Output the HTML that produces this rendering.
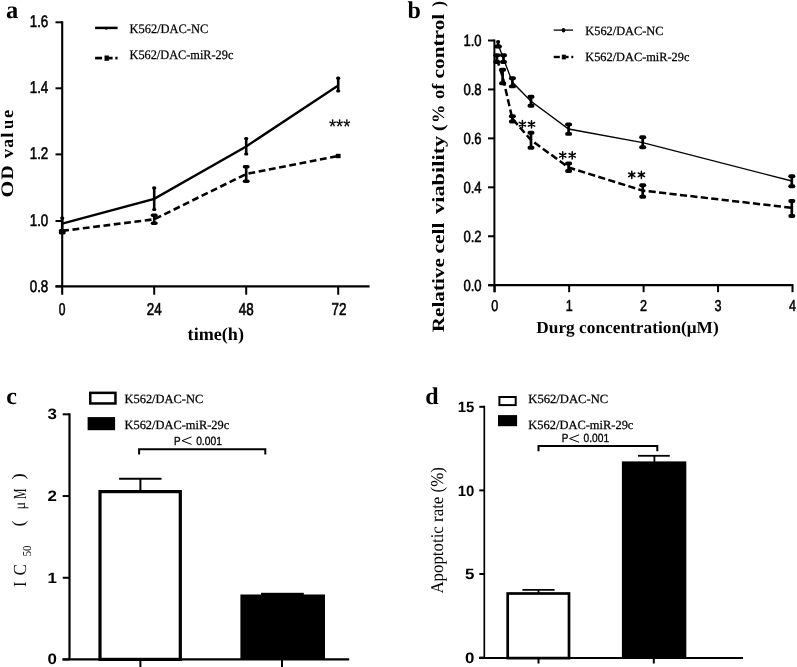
<!DOCTYPE html>
<html><head><meta charset="utf-8"><style>
html,body{margin:0;padding:0;background:#fff;}
svg{display:block;filter:grayscale(1);}
</style></head><body>
<svg width="797" height="667" viewBox="0 0 797 667" text-rendering="geometricPrecision">
<rect x="0" y="0" width="797" height="667" fill="#fff"/>
<text x="6.00" y="18.20" font-family='"Liberation Serif", serif' font-size="24.5" font-weight="bold" text-anchor="start">a</text>
<line x1="62.20" y1="21.30" x2="62.20" y2="294.70" stroke="#000" stroke-width="2.1" stroke-linecap="butt"/>
<line x1="55.50" y1="286.40" x2="369.60" y2="286.40" stroke="#000" stroke-width="2.3" stroke-linecap="butt"/>
<line x1="55.50" y1="286.40" x2="62.20" y2="286.40" stroke="#000" stroke-width="2" stroke-linecap="butt"/>
<text x="48.30" y="291.90" font-family='"Liberation Sans", sans-serif' font-size="16.9" font-weight="normal" text-anchor="end" textLength="18.60" lengthAdjust="spacingAndGlyphs" stroke="#000" stroke-width="0.6">0.8</text>
<line x1="55.50" y1="221.00" x2="62.20" y2="221.00" stroke="#000" stroke-width="2" stroke-linecap="butt"/>
<text x="48.30" y="225.65" font-family='"Liberation Sans", sans-serif' font-size="16.9" font-weight="normal" text-anchor="end" textLength="18.60" lengthAdjust="spacingAndGlyphs" stroke="#000" stroke-width="0.6">1.0</text>
<line x1="55.50" y1="154.40" x2="62.20" y2="154.40" stroke="#000" stroke-width="2" stroke-linecap="butt"/>
<text x="48.30" y="159.40" font-family='"Liberation Sans", sans-serif' font-size="16.9" font-weight="normal" text-anchor="end" textLength="18.60" lengthAdjust="spacingAndGlyphs" stroke="#000" stroke-width="0.6">1.2</text>
<line x1="55.50" y1="88.30" x2="62.20" y2="88.30" stroke="#000" stroke-width="2" stroke-linecap="butt"/>
<text x="48.30" y="93.15" font-family='"Liberation Sans", sans-serif' font-size="16.9" font-weight="normal" text-anchor="end" textLength="18.60" lengthAdjust="spacingAndGlyphs" stroke="#000" stroke-width="0.6">1.4</text>
<line x1="55.50" y1="22.30" x2="62.20" y2="22.30" stroke="#000" stroke-width="2" stroke-linecap="butt"/>
<text x="48.30" y="26.90" font-family='"Liberation Sans", sans-serif' font-size="16.9" font-weight="normal" text-anchor="end" textLength="18.60" lengthAdjust="spacingAndGlyphs" stroke="#000" stroke-width="0.6">1.6</text>
<line x1="154.20" y1="286.40" x2="154.20" y2="294.70" stroke="#000" stroke-width="2" stroke-linecap="butt"/>
<line x1="246.20" y1="286.40" x2="246.20" y2="294.70" stroke="#000" stroke-width="2" stroke-linecap="butt"/>
<line x1="338.20" y1="286.40" x2="338.20" y2="294.70" stroke="#000" stroke-width="2" stroke-linecap="butt"/>
<text x="62.20" y="315.00" font-family='"Liberation Sans", sans-serif' font-size="17.2" font-weight="normal" text-anchor="middle" textLength="6.70" lengthAdjust="spacingAndGlyphs" stroke="#000" stroke-width="0.6">0</text>
<text x="154.20" y="315.00" font-family='"Liberation Sans", sans-serif' font-size="17.2" font-weight="normal" text-anchor="middle" textLength="14.90" lengthAdjust="spacingAndGlyphs" stroke="#000" stroke-width="0.6">24</text>
<text x="246.20" y="315.00" font-family='"Liberation Sans", sans-serif' font-size="17.2" font-weight="normal" text-anchor="middle" textLength="14.90" lengthAdjust="spacingAndGlyphs" stroke="#000" stroke-width="0.6">48</text>
<text x="339.00" y="315.00" font-family='"Liberation Sans", sans-serif' font-size="17.2" font-weight="normal" text-anchor="middle" textLength="14.90" lengthAdjust="spacingAndGlyphs" stroke="#000" stroke-width="0.6">72</text>
<text x="187.60" y="340.10" font-family='"Liberation Serif", serif' font-size="18" font-weight="bold" text-anchor="start" textLength="56.40" lengthAdjust="spacingAndGlyphs">time(h)</text>
<text transform="translate(12.6,189.00) rotate(-90)" font-family='"Liberation Serif", serif' font-size="17.5" font-weight="bold" text-anchor="middle" textLength="16.9" lengthAdjust="spacingAndGlyphs">O</text>
<text transform="translate(12.6,172.30) rotate(-90)" font-family='"Liberation Serif", serif' font-size="17.5" font-weight="bold" text-anchor="middle" textLength="14.2" lengthAdjust="spacingAndGlyphs">D</text>
<text transform="translate(12.6,153.70) rotate(-90)" font-family='"Liberation Serif", serif' font-size="17.5" font-weight="bold" text-anchor="middle" textLength="9.3" lengthAdjust="spacingAndGlyphs">v</text>
<text transform="translate(12.6,143.30) rotate(-90)" font-family='"Liberation Serif", serif' font-size="17.5" font-weight="bold" text-anchor="middle" textLength="8.9" lengthAdjust="spacingAndGlyphs">a</text>
<text transform="translate(12.6,135.00) rotate(-90)" font-family='"Liberation Serif", serif' font-size="17.5" font-weight="bold" text-anchor="middle" textLength="5.4" lengthAdjust="spacingAndGlyphs">l</text>
<text transform="translate(12.6,124.40) rotate(-90)" font-family='"Liberation Serif", serif' font-size="17.5" font-weight="bold" text-anchor="middle" textLength="9.3" lengthAdjust="spacingAndGlyphs">u</text>
<text transform="translate(12.6,113.80) rotate(-90)" font-family='"Liberation Serif", serif' font-size="17.5" font-weight="bold" text-anchor="middle" textLength="8.2" lengthAdjust="spacingAndGlyphs">e</text>
<polyline points="62.20,223.60 154.20,198.80 246.20,146.40 338.20,85.60" fill="none" stroke="#000" stroke-width="2.35" stroke-linecap="butt" stroke-linejoin="miter"/>
<polyline points="62.20,230.90 154.20,219.30 246.20,174.00 338.20,156.00" fill="none" stroke="#000" stroke-width="2.6" stroke-linecap="butt" stroke-linejoin="miter" stroke-dasharray="6.8 3.6"/>
<line x1="62.20" y1="218.00" x2="62.20" y2="230.00" stroke="#000" stroke-width="2.6" stroke-linecap="butt"/>
<line x1="61.70" y1="218.00" x2="62.70" y2="218.00" stroke="#000" stroke-width="3.2" stroke-linecap="round"/>
<line x1="154.20" y1="187.90" x2="154.20" y2="209.50" stroke="#000" stroke-width="2.6" stroke-linecap="butt"/>
<line x1="153.70" y1="187.90" x2="154.70" y2="187.90" stroke="#000" stroke-width="3.2" stroke-linecap="round"/>
<line x1="153.70" y1="209.50" x2="154.70" y2="209.50" stroke="#000" stroke-width="3.2" stroke-linecap="round"/>
<line x1="246.20" y1="138.60" x2="246.20" y2="154.00" stroke="#000" stroke-width="2.6" stroke-linecap="butt"/>
<line x1="245.70" y1="138.60" x2="246.70" y2="138.60" stroke="#000" stroke-width="3.2" stroke-linecap="round"/>
<line x1="245.70" y1="154.00" x2="246.70" y2="154.00" stroke="#000" stroke-width="3.2" stroke-linecap="round"/>
<line x1="338.20" y1="78.20" x2="338.20" y2="91.00" stroke="#000" stroke-width="2.6" stroke-linecap="butt"/>
<line x1="337.70" y1="78.20" x2="338.70" y2="78.20" stroke="#000" stroke-width="3.2" stroke-linecap="round"/>
<line x1="337.70" y1="91.00" x2="338.70" y2="91.00" stroke="#000" stroke-width="3.2" stroke-linecap="round"/>
<line x1="62.20" y1="230.80" x2="62.20" y2="232.80" stroke="#000" stroke-width="2.6" stroke-linecap="butt"/>
<line x1="60.45" y1="230.80" x2="63.95" y2="230.80" stroke="#000" stroke-width="3.5" stroke-linecap="round"/>
<line x1="60.45" y1="232.80" x2="63.95" y2="232.80" stroke="#000" stroke-width="3.5" stroke-linecap="round"/>
<line x1="154.20" y1="215.30" x2="154.20" y2="223.30" stroke="#000" stroke-width="2.6" stroke-linecap="butt"/>
<line x1="152.45" y1="215.30" x2="155.95" y2="215.30" stroke="#000" stroke-width="3.4" stroke-linecap="round"/>
<line x1="152.45" y1="223.30" x2="155.95" y2="223.30" stroke="#000" stroke-width="3.4" stroke-linecap="round"/>
<line x1="246.20" y1="166.80" x2="246.20" y2="181.30" stroke="#000" stroke-width="2.6" stroke-linecap="butt"/>
<line x1="244.45" y1="166.80" x2="247.95" y2="166.80" stroke="#000" stroke-width="3.4" stroke-linecap="round"/>
<line x1="244.45" y1="181.30" x2="247.95" y2="181.30" stroke="#000" stroke-width="3.4" stroke-linecap="round"/>
<rect x="335.80" y="153.80" width="4.80" height="4.40" fill="#000"/>
<text x="328.90" y="132.60" font-family='"Liberation Sans", sans-serif' font-size="19.5" font-weight="normal" text-anchor="start" textLength="21.40" lengthAdjust="spacingAndGlyphs" stroke="#000" stroke-width="0.2">***</text>
<line x1="95.10" y1="27.90" x2="117.60" y2="27.90" stroke="#000" stroke-width="2.5" stroke-linecap="butt"/>
<ellipse cx="106.3" cy="28.6" rx="1.6" ry="1.1" fill="#000"/>
<line x1="95.10" y1="58.10" x2="102.10" y2="58.10" stroke="#000" stroke-width="2.7" stroke-linecap="butt"/>
<line x1="108.90" y1="58.10" x2="112.60" y2="58.10" stroke="#000" stroke-width="2.7" stroke-linecap="butt"/>
<line x1="115.30" y1="58.10" x2="117.60" y2="58.10" stroke="#000" stroke-width="2.7" stroke-linecap="butt"/>
<rect x="104.50" y="55.50" width="4.40" height="5.30" fill="#000"/>
<text x="129.50" y="32.80" font-family='"Liberation Serif", serif' font-size="13" font-weight="normal" text-anchor="start" textLength="78.80" lengthAdjust="spacingAndGlyphs" stroke="#000" stroke-width="0.25">K562/DAC-NC</text>
<text x="129.50" y="59.40" font-family='"Liberation Serif", serif' font-size="13" font-weight="normal" text-anchor="start" textLength="103.90" lengthAdjust="spacingAndGlyphs" stroke="#000" stroke-width="0.25">K562/DAC-miR-29c</text>
<text x="407.50" y="18.00" font-family='"Liberation Serif", serif' font-size="24" font-weight="bold" text-anchor="start">b</text>
<line x1="494.40" y1="39.50" x2="494.40" y2="292.20" stroke="#000" stroke-width="2.0" stroke-linecap="butt"/>
<line x1="488.50" y1="285.20" x2="793.40" y2="285.20" stroke="#000" stroke-width="2.2" stroke-linecap="butt"/>
<line x1="488.00" y1="285.20" x2="494.40" y2="285.20" stroke="#000" stroke-width="2" stroke-linecap="butt"/>
<text x="481.60" y="290.60" font-family='"Liberation Sans", sans-serif' font-size="16.2" font-weight="normal" text-anchor="end" textLength="18.20" lengthAdjust="spacingAndGlyphs" stroke="#000" stroke-width="0.55">0.0</text>
<line x1="488.00" y1="236.26" x2="494.40" y2="236.26" stroke="#000" stroke-width="2" stroke-linecap="butt"/>
<text x="481.60" y="241.66" font-family='"Liberation Sans", sans-serif' font-size="16.2" font-weight="normal" text-anchor="end" textLength="18.20" lengthAdjust="spacingAndGlyphs" stroke="#000" stroke-width="0.55">0.2</text>
<line x1="488.00" y1="187.32" x2="494.40" y2="187.32" stroke="#000" stroke-width="2" stroke-linecap="butt"/>
<text x="481.60" y="192.72" font-family='"Liberation Sans", sans-serif' font-size="16.2" font-weight="normal" text-anchor="end" textLength="18.20" lengthAdjust="spacingAndGlyphs" stroke="#000" stroke-width="0.55">0.4</text>
<line x1="488.00" y1="138.38" x2="494.40" y2="138.38" stroke="#000" stroke-width="2" stroke-linecap="butt"/>
<text x="481.60" y="143.78" font-family='"Liberation Sans", sans-serif' font-size="16.2" font-weight="normal" text-anchor="end" textLength="18.20" lengthAdjust="spacingAndGlyphs" stroke="#000" stroke-width="0.55">0.6</text>
<line x1="488.00" y1="89.44" x2="494.40" y2="89.44" stroke="#000" stroke-width="2" stroke-linecap="butt"/>
<text x="481.60" y="94.84" font-family='"Liberation Sans", sans-serif' font-size="16.2" font-weight="normal" text-anchor="end" textLength="18.20" lengthAdjust="spacingAndGlyphs" stroke="#000" stroke-width="0.55">0.8</text>
<line x1="488.00" y1="40.50" x2="494.40" y2="40.50" stroke="#000" stroke-width="2" stroke-linecap="butt"/>
<text x="481.60" y="45.90" font-family='"Liberation Sans", sans-serif' font-size="16.2" font-weight="normal" text-anchor="end" textLength="18.20" lengthAdjust="spacingAndGlyphs" stroke="#000" stroke-width="0.55">1.0</text>
<line x1="494.70" y1="285.20" x2="494.70" y2="292.20" stroke="#000" stroke-width="2" stroke-linecap="butt"/>
<text x="494.70" y="311.30" font-family='"Liberation Sans", sans-serif' font-size="15.8" font-weight="normal" text-anchor="middle" textLength="7.00" lengthAdjust="spacingAndGlyphs" stroke="#000" stroke-width="0.55">0</text>
<line x1="569.15" y1="285.20" x2="569.15" y2="292.20" stroke="#000" stroke-width="2" stroke-linecap="butt"/>
<text x="569.15" y="311.30" font-family='"Liberation Sans", sans-serif' font-size="15.8" font-weight="normal" text-anchor="middle" textLength="7.00" lengthAdjust="spacingAndGlyphs" stroke="#000" stroke-width="0.55">1</text>
<line x1="643.60" y1="285.20" x2="643.60" y2="292.20" stroke="#000" stroke-width="2" stroke-linecap="butt"/>
<text x="643.60" y="311.30" font-family='"Liberation Sans", sans-serif' font-size="15.8" font-weight="normal" text-anchor="middle" textLength="7.00" lengthAdjust="spacingAndGlyphs" stroke="#000" stroke-width="0.55">2</text>
<line x1="718.05" y1="285.20" x2="718.05" y2="292.20" stroke="#000" stroke-width="2" stroke-linecap="butt"/>
<text x="718.05" y="311.30" font-family='"Liberation Sans", sans-serif' font-size="15.8" font-weight="normal" text-anchor="middle" textLength="7.00" lengthAdjust="spacingAndGlyphs" stroke="#000" stroke-width="0.55">3</text>
<line x1="792.50" y1="285.20" x2="792.50" y2="292.20" stroke="#000" stroke-width="2" stroke-linecap="butt"/>
<text x="792.50" y="311.30" font-family='"Liberation Sans", sans-serif' font-size="15.8" font-weight="normal" text-anchor="middle" textLength="7.00" lengthAdjust="spacingAndGlyphs" stroke="#000" stroke-width="0.55">4</text>
<text x="536.30" y="332.60" font-family='"Liberation Serif", serif' font-size="17" font-weight="bold" text-anchor="start" textLength="182.40" lengthAdjust="spacingAndGlyphs">Durg concentration(μM)</text>
<text transform="translate(444.20,332.30) rotate(-90)" font-family='"Liberation Serif", serif' font-size="17.3" font-weight="bold" text-anchor="start" textLength="74.20" lengthAdjust="spacingAndGlyphs">Relative</text>
<text transform="translate(444.20,253.40) rotate(-90)" font-family='"Liberation Serif", serif' font-size="17.3" font-weight="bold" text-anchor="start" textLength="30.70" lengthAdjust="spacingAndGlyphs">cell</text>
<text transform="translate(444.20,214.00) rotate(-90)" font-family='"Liberation Serif", serif' font-size="17.3" font-weight="bold" text-anchor="start" textLength="78.30" lengthAdjust="spacingAndGlyphs">viability</text>
<text transform="translate(444.20,131.20) rotate(-90)" font-family='"Liberation Serif", serif' font-size="17.3" font-weight="bold" text-anchor="start" textLength="7.00" lengthAdjust="spacingAndGlyphs">(</text>
<text transform="translate(444.20,123.10) rotate(-90)" font-family='"Liberation Serif", serif' font-size="17.3" font-weight="bold" text-anchor="start" textLength="18.50" lengthAdjust="spacingAndGlyphs">%</text>
<text transform="translate(444.20,99.00) rotate(-90)" font-family='"Liberation Serif", serif' font-size="17.3" font-weight="bold" text-anchor="start" textLength="15.50" lengthAdjust="spacingAndGlyphs">of</text>
<text transform="translate(444.20,78.50) rotate(-90)" font-family='"Liberation Serif", serif' font-size="17.3" font-weight="bold" text-anchor="start" textLength="64.80" lengthAdjust="spacingAndGlyphs">control</text>
<text transform="translate(444.20,6.70) rotate(-90)" font-family='"Liberation Serif", serif' font-size="17.3" font-weight="bold" text-anchor="start" textLength="5.70" lengthAdjust="spacingAndGlyphs">)</text>
<polyline points="498.10,44.20 503.50,58.70 512.40,82.30 531.00,101.20 568.60,129.00 642.70,142.60 791.80,181.00" fill="none" stroke="#000" stroke-width="1.35" stroke-linecap="butt" stroke-linejoin="miter"/>
<polyline points="496.80,58.70 502.60,76.50 512.40,118.80 531.00,140.00 568.60,167.50 642.70,190.60 791.80,207.80" fill="none" stroke="#000" stroke-width="2.5" stroke-linecap="butt" stroke-linejoin="miter" stroke-dasharray="7.2 3.3"/>
<line x1="498.10" y1="41.80" x2="498.10" y2="46.50" stroke="#000" stroke-width="2.7" stroke-linecap="butt"/>
<line x1="497.85" y1="41.80" x2="498.35" y2="41.80" stroke="#000" stroke-width="3.6" stroke-linecap="round"/>
<line x1="497.85" y1="46.50" x2="498.35" y2="46.50" stroke="#000" stroke-width="3.6" stroke-linecap="round"/>
<line x1="496.30" y1="46.50" x2="499.90" y2="46.50" stroke="#000" stroke-width="4.0" stroke-linecap="round"/>
<line x1="503.50" y1="55.30" x2="503.50" y2="62.00" stroke="#000" stroke-width="2.7" stroke-linecap="butt"/>
<line x1="501.95" y1="55.30" x2="505.05" y2="55.30" stroke="#000" stroke-width="3.9" stroke-linecap="round"/>
<line x1="501.95" y1="62.00" x2="505.05" y2="62.00" stroke="#000" stroke-width="3.9" stroke-linecap="round"/>
<line x1="512.40" y1="78.20" x2="512.40" y2="86.40" stroke="#000" stroke-width="2.7" stroke-linecap="butt"/>
<line x1="510.85" y1="78.20" x2="513.95" y2="78.20" stroke="#000" stroke-width="3.9" stroke-linecap="round"/>
<line x1="510.85" y1="86.40" x2="513.95" y2="86.40" stroke="#000" stroke-width="3.9" stroke-linecap="round"/>
<line x1="531.00" y1="96.70" x2="531.00" y2="105.70" stroke="#000" stroke-width="2.7" stroke-linecap="butt"/>
<line x1="529.45" y1="96.70" x2="532.55" y2="96.70" stroke="#000" stroke-width="3.9" stroke-linecap="round"/>
<line x1="529.45" y1="105.70" x2="532.55" y2="105.70" stroke="#000" stroke-width="3.9" stroke-linecap="round"/>
<line x1="568.60" y1="124.40" x2="568.60" y2="133.90" stroke="#000" stroke-width="2.7" stroke-linecap="butt"/>
<line x1="567.05" y1="124.40" x2="570.15" y2="124.40" stroke="#000" stroke-width="3.9" stroke-linecap="round"/>
<line x1="567.05" y1="133.90" x2="570.15" y2="133.90" stroke="#000" stroke-width="3.9" stroke-linecap="round"/>
<line x1="642.70" y1="137.20" x2="642.70" y2="147.30" stroke="#000" stroke-width="2.7" stroke-linecap="butt"/>
<line x1="641.15" y1="137.20" x2="644.25" y2="137.20" stroke="#000" stroke-width="3.9" stroke-linecap="round"/>
<line x1="641.15" y1="147.30" x2="644.25" y2="147.30" stroke="#000" stroke-width="3.9" stroke-linecap="round"/>
<line x1="791.80" y1="176.20" x2="791.80" y2="186.30" stroke="#000" stroke-width="2.7" stroke-linecap="butt"/>
<line x1="790.25" y1="176.20" x2="793.35" y2="176.20" stroke="#000" stroke-width="3.9" stroke-linecap="round"/>
<line x1="790.25" y1="186.30" x2="793.35" y2="186.30" stroke="#000" stroke-width="3.9" stroke-linecap="round"/>
<line x1="496.80" y1="55.30" x2="496.80" y2="62.00" stroke="#000" stroke-width="2.7" stroke-linecap="butt"/>
<line x1="495.25" y1="55.30" x2="498.35" y2="55.30" stroke="#000" stroke-width="3.9" stroke-linecap="round"/>
<line x1="495.25" y1="62.00" x2="498.35" y2="62.00" stroke="#000" stroke-width="3.9" stroke-linecap="round"/>
<line x1="502.60" y1="69.70" x2="502.60" y2="83.20" stroke="#000" stroke-width="2.7" stroke-linecap="butt"/>
<line x1="501.05" y1="69.70" x2="504.15" y2="69.70" stroke="#000" stroke-width="3.9" stroke-linecap="round"/>
<line x1="501.05" y1="83.20" x2="504.15" y2="83.20" stroke="#000" stroke-width="3.9" stroke-linecap="round"/>
<line x1="512.40" y1="116.20" x2="512.40" y2="121.50" stroke="#000" stroke-width="2.7" stroke-linecap="butt"/>
<line x1="510.85" y1="116.20" x2="513.95" y2="116.20" stroke="#000" stroke-width="3.9" stroke-linecap="round"/>
<line x1="510.85" y1="121.50" x2="513.95" y2="121.50" stroke="#000" stroke-width="3.9" stroke-linecap="round"/>
<line x1="531.00" y1="132.70" x2="531.00" y2="147.70" stroke="#000" stroke-width="2.7" stroke-linecap="butt"/>
<line x1="529.45" y1="132.70" x2="532.55" y2="132.70" stroke="#000" stroke-width="3.9" stroke-linecap="round"/>
<line x1="529.45" y1="147.70" x2="532.55" y2="147.70" stroke="#000" stroke-width="3.9" stroke-linecap="round"/>
<line x1="568.60" y1="163.50" x2="568.60" y2="171.00" stroke="#000" stroke-width="2.7" stroke-linecap="butt"/>
<line x1="567.05" y1="163.50" x2="570.15" y2="163.50" stroke="#000" stroke-width="3.9" stroke-linecap="round"/>
<line x1="567.05" y1="171.00" x2="570.15" y2="171.00" stroke="#000" stroke-width="3.9" stroke-linecap="round"/>
<line x1="642.70" y1="185.20" x2="642.70" y2="196.80" stroke="#000" stroke-width="2.7" stroke-linecap="butt"/>
<line x1="641.15" y1="185.20" x2="644.25" y2="185.20" stroke="#000" stroke-width="3.9" stroke-linecap="round"/>
<line x1="641.15" y1="196.80" x2="644.25" y2="196.80" stroke="#000" stroke-width="3.9" stroke-linecap="round"/>
<line x1="791.80" y1="201.00" x2="791.80" y2="216.00" stroke="#000" stroke-width="2.7" stroke-linecap="butt"/>
<line x1="790.25" y1="201.00" x2="793.35" y2="201.00" stroke="#000" stroke-width="3.9" stroke-linecap="round"/>
<line x1="790.25" y1="216.00" x2="793.35" y2="216.00" stroke="#000" stroke-width="3.9" stroke-linecap="round"/>
<path d="M522.40,120.60L522.40,127.80M519.28,122.40L525.52,126.00M519.28,126.00L525.52,122.40" stroke="#000" stroke-width="1.5" stroke-linecap="round" fill="none"/>
<path d="M531.50,120.70L531.50,127.90M528.38,122.50L534.62,126.10M528.38,126.10L534.62,122.50" stroke="#000" stroke-width="1.5" stroke-linecap="round" fill="none"/>
<path d="M562.70,151.70L562.70,158.90M559.58,153.50L565.82,157.10M559.58,157.10L565.82,153.50" stroke="#000" stroke-width="1.5" stroke-linecap="round" fill="none"/>
<path d="M572.20,151.70L572.20,158.90M569.08,153.50L575.32,157.10M569.08,157.10L575.32,153.50" stroke="#000" stroke-width="1.5" stroke-linecap="round" fill="none"/>
<path d="M631.80,171.20L631.80,178.40M628.68,173.00L634.92,176.60M628.68,176.60L634.92,173.00" stroke="#000" stroke-width="1.5" stroke-linecap="round" fill="none"/>
<path d="M641.40,171.20L641.40,178.40M638.28,173.00L644.52,176.60M638.28,176.60L644.52,173.00" stroke="#000" stroke-width="1.5" stroke-linecap="round" fill="none"/>
<line x1="553.70" y1="30.10" x2="573.00" y2="30.10" stroke="#000" stroke-width="1.3" stroke-linecap="butt"/>
<ellipse cx="563.5" cy="30.3" rx="1.8" ry="2.2" fill="#000"/>
<line x1="553.70" y1="57.00" x2="559.80" y2="57.00" stroke="#000" stroke-width="2.4" stroke-linecap="butt"/>
<line x1="565.90" y1="57.00" x2="568.60" y2="57.00" stroke="#000" stroke-width="2.4" stroke-linecap="butt"/>
<line x1="571.30" y1="57.00" x2="573.30" y2="57.00" stroke="#000" stroke-width="2.4" stroke-linecap="butt"/>
<rect x="561.80" y="54.70" width="4.10" height="4.70" fill="#000"/>
<text x="585.30" y="35.20" font-family='"Liberation Serif", serif' font-size="12.5" font-weight="normal" text-anchor="start" textLength="78.20" lengthAdjust="spacingAndGlyphs" stroke="#000" stroke-width="0.25">K562/DAC-NC</text>
<text x="585.30" y="61.30" font-family='"Liberation Serif", serif' font-size="12.5" font-weight="normal" text-anchor="start" textLength="104.10" lengthAdjust="spacingAndGlyphs" stroke="#000" stroke-width="0.25">K562/DAC-miR-29c</text>
<text x="6.20" y="403.50" font-family='"Liberation Serif", serif' font-size="24" font-weight="bold" text-anchor="start">c</text>
<line x1="69.50" y1="413.31" x2="69.50" y2="659.40" stroke="#000" stroke-width="2.2" stroke-linecap="butt"/>
<line x1="62.50" y1="659.40" x2="349.20" y2="659.40" stroke="#000" stroke-width="2.4" stroke-linecap="butt"/>
<line x1="62.70" y1="659.50" x2="69.50" y2="659.50" stroke="#000" stroke-width="2" stroke-linecap="butt"/>
<text x="57.00" y="664.30" font-family='"Liberation Sans", sans-serif' font-size="15" font-weight="bold" text-anchor="end" textLength="9.40" lengthAdjust="spacingAndGlyphs">0</text>
<line x1="62.70" y1="577.77" x2="69.50" y2="577.77" stroke="#000" stroke-width="2" stroke-linecap="butt"/>
<text x="57.00" y="582.57" font-family='"Liberation Sans", sans-serif' font-size="15" font-weight="bold" text-anchor="end" textLength="9.40" lengthAdjust="spacingAndGlyphs">1</text>
<line x1="62.70" y1="496.04" x2="69.50" y2="496.04" stroke="#000" stroke-width="2" stroke-linecap="butt"/>
<text x="57.00" y="500.84" font-family='"Liberation Sans", sans-serif' font-size="15" font-weight="bold" text-anchor="end" textLength="9.40" lengthAdjust="spacingAndGlyphs">2</text>
<line x1="62.70" y1="414.31" x2="69.50" y2="414.31" stroke="#000" stroke-width="2" stroke-linecap="butt"/>
<text x="57.00" y="419.11" font-family='"Liberation Sans", sans-serif' font-size="15" font-weight="bold" text-anchor="end" textLength="9.40" lengthAdjust="spacingAndGlyphs">3</text>
<line x1="140.40" y1="659.40" x2="140.40" y2="667.00" stroke="#000" stroke-width="2" stroke-linecap="butt"/>
<line x1="282.00" y1="659.40" x2="282.00" y2="667.00" stroke="#000" stroke-width="2" stroke-linecap="butt"/>
<rect x="100.00" y="491.60" width="80.30" height="167.80" fill="#fff" stroke="#000" stroke-width="3.2"/>
<line x1="140.40" y1="491.00" x2="140.40" y2="478.80" stroke="#000" stroke-width="2" stroke-linecap="butt"/>
<line x1="119.10" y1="478.80" x2="161.50" y2="478.80" stroke="#000" stroke-width="2" stroke-linecap="butt"/>
<rect x="240.40" y="594.50" width="84.60" height="64.90" fill="#000"/>
<rect x="261.00" y="592.80" width="42.80" height="3.00" fill="#000"/>
<rect x="90.25" y="392.85" width="25.20" height="10.60" fill="#fff" stroke="#000" stroke-width="2.5"/>
<rect x="87.60" y="417.10" width="27.50" height="13.10" fill="#000"/>
<text x="124.50" y="403.10" font-family='"Liberation Serif", serif' font-size="12.5" font-weight="normal" text-anchor="start" textLength="78.70" lengthAdjust="spacingAndGlyphs" stroke="#000" stroke-width="0.25">K562/DAC-NC</text>
<text x="124.50" y="429.20" font-family='"Liberation Serif", serif' font-size="12.5" font-weight="normal" text-anchor="start" textLength="104.80" lengthAdjust="spacingAndGlyphs" stroke="#000" stroke-width="0.25">K562/DAC-miR-29c</text>
<text x="174.10" y="444.50" font-family='"Liberation Sans", sans-serif' font-size="11.8" font-weight="normal" text-anchor="start" textLength="6.60" lengthAdjust="spacingAndGlyphs" stroke="#000" stroke-width="0.35">P</text>
<polyline points="191.55,436.90 181.96,440.70 191.55,444.40" fill="none" stroke="#000" stroke-width="1.0" stroke-linecap="butt" stroke-linejoin="miter"/>
<text x="196.14" y="444.50" font-family='"Liberation Sans", sans-serif' font-size="11.8" font-weight="normal" text-anchor="start" textLength="25.81" lengthAdjust="spacingAndGlyphs" stroke="#000" stroke-width="0.3">0.001</text>
<polyline points="139.10,454.50 139.10,449.20 265.30,449.20 265.30,454.50" fill="none" stroke="#000" stroke-width="2" stroke-linecap="butt" stroke-linejoin="miter"/>
<text transform="translate(25.70,584.30) rotate(-90)" font-family='"Liberation Serif", serif' font-size="18.4" fill="#111" text-anchor="middle" textLength="6.00" lengthAdjust="spacingAndGlyphs">I</text>
<text transform="translate(25.70,569.80) rotate(-90)" font-family='"Liberation Serif", serif' font-size="18.4" fill="#111" text-anchor="middle" textLength="11.50" lengthAdjust="spacingAndGlyphs">C</text>
<text transform="translate(31.00,553.60) rotate(-90)" font-family='"Liberation Serif", serif' font-size="12" fill="#111" text-anchor="middle" textLength="5.40" lengthAdjust="spacingAndGlyphs">5</text>
<text transform="translate(31.00,548.20) rotate(-90)" font-family='"Liberation Serif", serif' font-size="12" fill="#111" text-anchor="middle" textLength="5.40" lengthAdjust="spacingAndGlyphs">0</text>
<text transform="translate(24.20,523.30) rotate(-90)" font-family='"Liberation Serif", serif' font-size="17.5" fill="#111" text-anchor="middle" textLength="6.20" lengthAdjust="spacingAndGlyphs">(</text>
<text transform="translate(24.60,505.80) rotate(-90)" font-family='"Liberation Serif", serif' font-size="16" fill="#111" text-anchor="middle" textLength="7.60" lengthAdjust="spacingAndGlyphs">μ</text>
<text transform="translate(25.70,493.60) rotate(-90)" font-family='"Liberation Serif", serif' font-size="18.4" fill="#111" text-anchor="middle" textLength="10.60" lengthAdjust="spacingAndGlyphs">M</text>
<text transform="translate(24.20,476.40) rotate(-90)" font-family='"Liberation Serif", serif' font-size="17.5" fill="#111" text-anchor="middle" textLength="6.20" lengthAdjust="spacingAndGlyphs">)</text>
<text x="425.20" y="403.50" font-family='"Liberation Serif", serif' font-size="24" font-weight="bold" text-anchor="start">d</text>
<line x1="484.30" y1="405.80" x2="484.30" y2="658.10" stroke="#000" stroke-width="1.7" stroke-linecap="butt"/>
<line x1="479.00" y1="658.10" x2="743.00" y2="658.10" stroke="#000" stroke-width="2.0" stroke-linecap="butt"/>
<line x1="479.30" y1="657.60" x2="484.30" y2="657.60" stroke="#000" stroke-width="2" stroke-linecap="butt"/>
<text x="474.40" y="662.80" font-family='"Liberation Sans", sans-serif' font-size="15" font-weight="bold" text-anchor="end" textLength="9.40" lengthAdjust="spacingAndGlyphs">0</text>
<line x1="479.30" y1="574.00" x2="484.30" y2="574.00" stroke="#000" stroke-width="2" stroke-linecap="butt"/>
<text x="474.40" y="579.20" font-family='"Liberation Sans", sans-serif' font-size="15" font-weight="bold" text-anchor="end" textLength="9.40" lengthAdjust="spacingAndGlyphs">5</text>
<line x1="479.30" y1="490.40" x2="484.30" y2="490.40" stroke="#000" stroke-width="2" stroke-linecap="butt"/>
<text x="474.40" y="495.60" font-family='"Liberation Sans", sans-serif' font-size="15" font-weight="bold" text-anchor="end" textLength="16.60" lengthAdjust="spacingAndGlyphs">10</text>
<line x1="479.30" y1="406.80" x2="484.30" y2="406.80" stroke="#000" stroke-width="2" stroke-linecap="butt"/>
<text x="474.40" y="412.00" font-family='"Liberation Sans", sans-serif' font-size="15" font-weight="bold" text-anchor="end" textLength="16.60" lengthAdjust="spacingAndGlyphs">15</text>
<line x1="538.50" y1="658.10" x2="538.50" y2="663.50" stroke="#000" stroke-width="2" stroke-linecap="butt"/>
<line x1="653.80" y1="658.10" x2="653.80" y2="663.50" stroke="#000" stroke-width="2" stroke-linecap="butt"/>
<rect x="507.70" y="593.50" width="61.30" height="64.60" fill="#fff" stroke="#000" stroke-width="2.7"/>
<line x1="538.50" y1="593.00" x2="538.50" y2="589.90" stroke="#000" stroke-width="1.8" stroke-linecap="butt"/>
<line x1="522.40" y1="589.90" x2="554.60" y2="589.90" stroke="#000" stroke-width="1.8" stroke-linecap="butt"/>
<rect x="621.90" y="461.40" width="64.40" height="196.70" fill="#000"/>
<line x1="654.40" y1="462.00" x2="654.40" y2="455.80" stroke="#000" stroke-width="1.8" stroke-linecap="butt"/>
<line x1="638.00" y1="455.80" x2="669.80" y2="455.80" stroke="#000" stroke-width="1.8" stroke-linecap="butt"/>
<rect x="499.40" y="397.00" width="16.30" height="8.10" fill="#fff" stroke="#000" stroke-width="2"/>
<rect x="498.00" y="415.10" width="19.10" height="11.10" fill="#000"/>
<text x="528.30" y="403.10" font-family='"Liberation Serif", serif' font-size="12.5" font-weight="normal" text-anchor="start" textLength="80.00" lengthAdjust="spacingAndGlyphs" stroke="#000" stroke-width="0.25">K562/DAC-NC</text>
<text x="528.30" y="429.20" font-family='"Liberation Serif", serif' font-size="12.5" font-weight="normal" text-anchor="start" textLength="105.10" lengthAdjust="spacingAndGlyphs" stroke="#000" stroke-width="0.25">K562/DAC-miR-29c</text>
<text x="561.80" y="442.40" font-family='"Liberation Sans", sans-serif' font-size="11.8" font-weight="normal" text-anchor="start" textLength="6.60" lengthAdjust="spacingAndGlyphs" stroke="#000" stroke-width="0.35">P</text>
<polyline points="579.07,434.80 569.58,438.60 579.07,442.30" fill="none" stroke="#000" stroke-width="1.0" stroke-linecap="butt" stroke-linejoin="miter"/>
<text x="583.62" y="442.40" font-family='"Liberation Sans", sans-serif' font-size="11.8" font-weight="normal" text-anchor="start" textLength="25.55" lengthAdjust="spacingAndGlyphs" stroke="#000" stroke-width="0.3">0.001</text>
<polyline points="538.50,451.30 538.50,446.00 657.30,446.00 657.30,451.30" fill="none" stroke="#000" stroke-width="2" stroke-linecap="butt" stroke-linejoin="miter"/>
<text transform="translate(442.80,593.60) rotate(-90)" font-family='"Liberation Serif", serif' font-size="18" font-weight="normal" text-anchor="start" textLength="126.40" lengthAdjust="spacingAndGlyphs">Apoptotic rate (%)</text>
</svg>
</body></html>
